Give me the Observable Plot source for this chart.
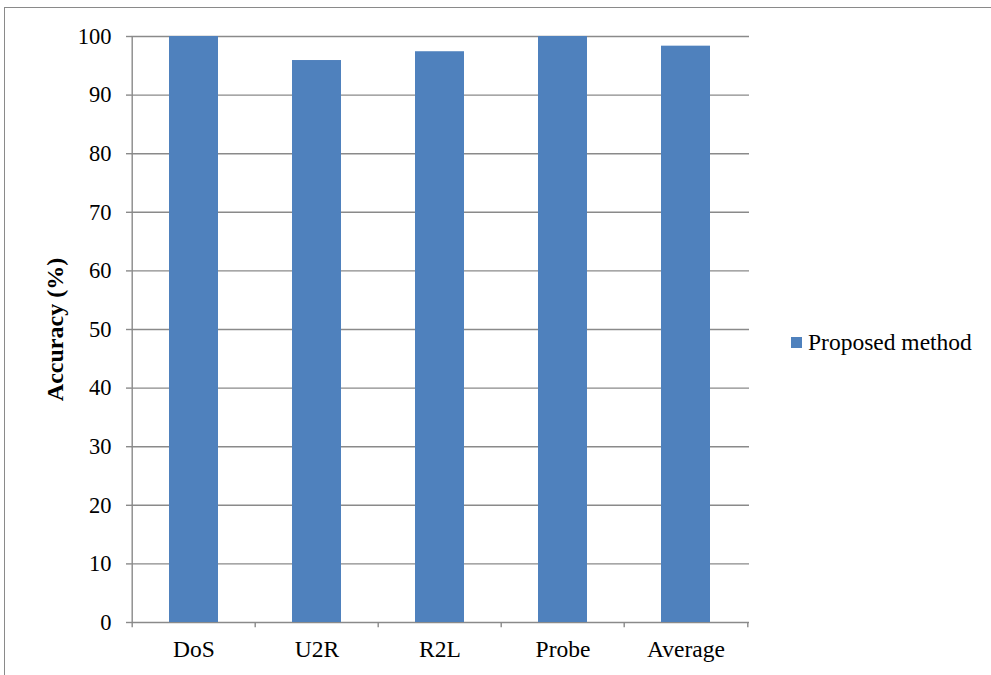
<!DOCTYPE html>
<html>
<head>
<meta charset="utf-8">
<script src="https://cdn.jsdelivr.net/npm/d3@7"></script>
<script src="https://cdn.jsdelivr.net/npm/@observablehq/plot@0.6"></script>
<style>
  html, body { margin: 0; padding: 0; background: #fff; }
  #wrap { position: relative; width: 991px; height: 675px; overflow: hidden; font-family: "Liberation Serif", "DejaVu Serif", serif; }
  #frame { position: absolute; left: 4px; top: 7px; width: 1100px; height: 800px; border-left: 1.5px solid #8a8a8a; border-top: 1.5px solid #8a8a8a; box-sizing: border-box; }
  #chart { position: absolute; left: 0; top: 0; }
  #chart svg, #chart svg text { font-family: "Liberation Serif", "DejaVu Serif", serif !important; }
  #legend { position: absolute; left: 791px; top: 329px; font-size: 23.5px; color: #000; display: flex; align-items: center; white-space: nowrap; }
  #legend .sw { width: 11px; height: 11px; background: #4f81bd; margin-right: 6px; }
</style>
</head>
<body>
<div id="wrap">
  <div id="frame"></div>
  <div id="chart"></div>
  <div id="legend"><span class="sw"></span><span>Proposed method</span></div>
</div>
<script>
const categories = ["DoS", "U2R", "R2L", "Probe", "Average"];
const accuracy = [100, 95.9, 97.4, 100, 98.35];
const yTicks = [0, 10, 20, 30, 40, 50, 60, 70, 80, 90, 100];
const seriesName = "Proposed method";
const yTitle = "Accuracy (%)";

const data = categories.map((c, i) => ({category: c, value: accuracy[i]}));

const W = 991, H = 675;
const mL = 131, mR = 242, mT = 36, mB = 53;
const step = (W - mL - mR) / categories.length;
const gray = "#8a8a8a";

const plot = Plot.plot({
  width: W,
  height: H,
  marginLeft: mL,
  marginRight: mR,
  marginTop: mT,
  marginBottom: mB,
  style: {fontSize: "22px", color: "#000", background: "transparent"},
  x: {domain: categories, paddingInner: 0.6, paddingOuter: 0.3, label: null},
  y: {domain: [0, 100], ticks: yTicks, label: null},
  marks: [
    Plot.ruleY(yTicks, {y: d => d, stroke: gray, strokeWidth: 1.4}),
    Plot.barY(data, {x: "category", y: "value", fill: "#4f81bd"}),
    Plot.axisY({ticks: yTicks, tickSize: 5, tickPadding: 15, stroke: gray, strokeWidth: 1.4, label: null, fontSize: 22.5, tickFormat: d => String(d)}),
    Plot.ruleX(categories.slice(0, 1), {x: d => d, dx: -step / 2, y1: 0, y2: 100, stroke: gray, strokeWidth: 1.4}),
    Plot.axisX({tickSize: 0, tickPadding: 18, label: null, fontSize: 23.5}),
    Plot.ruleX(categories, {x: d => d, dx: -step / 2, y1: 0, y2: -0.9, stroke: gray, strokeWidth: 1.4}),
    Plot.ruleX(categories.slice(-1), {x: d => d, dx: step / 2, y1: 0, y2: -0.9, stroke: gray, strokeWidth: 1.4}),
    Plot.text([yTitle], {text: d => d, frameAnchor: "left", textAnchor: "middle", dx: -76, rotate: -90, fontWeight: "bold", fontSize: 24, fill: "#000"})
  ]
});
document.getElementById("chart").appendChild(plot);
</script>
</body>
</html>
